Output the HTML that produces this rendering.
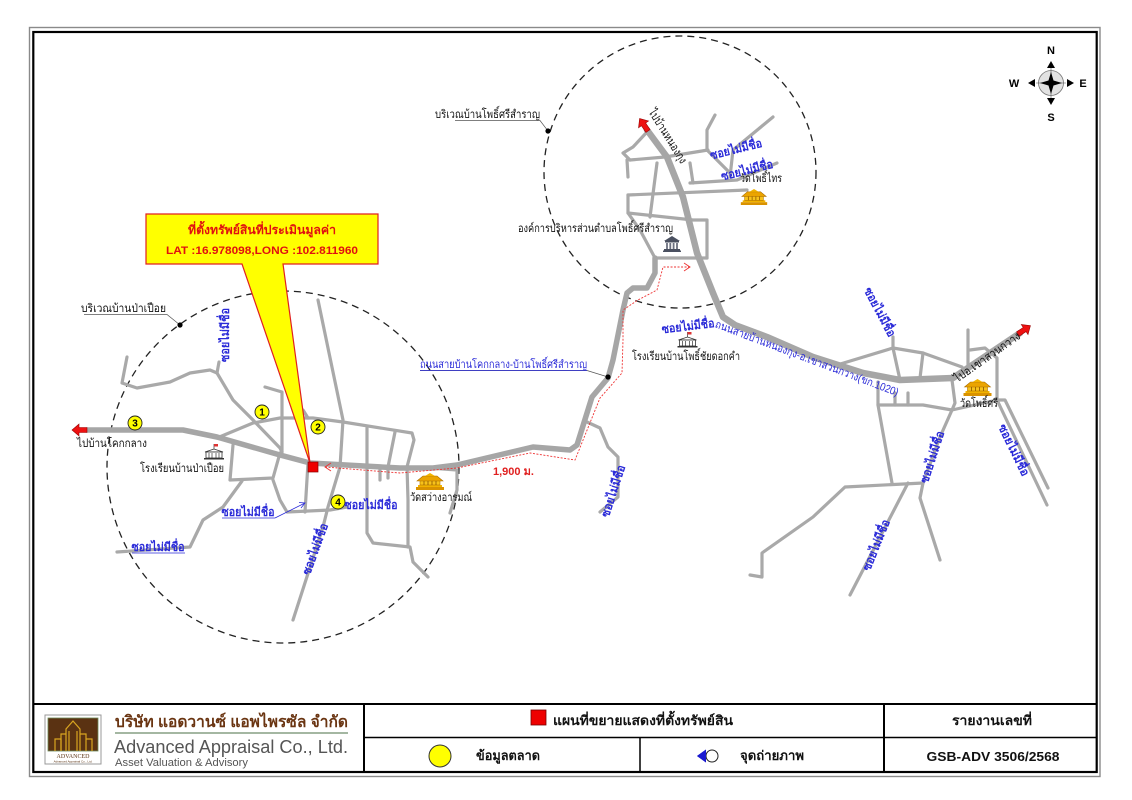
<!DOCTYPE html>
<html><head><meta charset="utf-8">
<style>
html,body{margin:0;padding:0;background:#fff;}
svg{display:block;font-family:"Liberation Sans","DejaVu Sans",sans-serif;}
.r{fill:none;stroke:#a9a9a9;stroke-width:3.2;stroke-linejoin:round;stroke-linecap:round}
.R{fill:none;stroke:#a6a6a6;stroke-width:5.5;stroke-linejoin:round;stroke-linecap:round}
.RT{fill:none;stroke:#a6a6a6;stroke-width:6.5;stroke-linejoin:round;stroke-linecap:round}
.b{fill:#2a2ad8;font-weight:bold;font-size:12px}
.k{fill:#111;font-size:11.5px}
.d{fill:none;stroke:#222;stroke-width:1.3;stroke-dasharray:7 5}
</style></head><body>
<svg width="1132" height="800" viewBox="0 0 1132 800">
<defs>
<symbol id="temple" viewBox="0 0 28 17">
 <rect x="0" y="14" width="28" height="3" fill="#d99200"/>
 <rect x="2" y="12" width="24" height="2" fill="#f2b300"/>
 <rect x="4" y="7" width="20" height="5" fill="#f7c21a" stroke="#b07000" stroke-width=".6"/>
 <polygon points="1,8 7,3 21,3 27,8" fill="#eba400" stroke="#a86a00" stroke-width=".6"/>
 <polygon points="9,3 14,0 19,3" fill="#f2b300"/>
 <path d="M8 8v4M12 8v4M16 8v4M20 8v4" stroke="#8a5500" stroke-width=".8"/>
</symbol>
<symbol id="school" viewBox="0 0 20 16">
 <line x1="10" y1="0" x2="10" y2="6" stroke="#333" stroke-width=".7"/>
 <rect x="10" y="0" width="4" height="2.5" fill="#d33"/>
 <polygon points="1,8 10,5 19,8" fill="#fff" stroke="#333" stroke-width=".8"/>
 <rect x="2" y="8" width="16" height="6" fill="#fff" stroke="#333" stroke-width=".8"/>
 <path d="M5 9v5M8 9v5M12 9v5M15 9v5" stroke="#333" stroke-width=".7"/>
 <rect x="0" y="14" width="20" height="1.5" fill="#333"/>
</symbol>
<symbol id="gov" viewBox="0 0 18 16">
 <polygon points="1,5 9,0 17,5" fill="#4a5060"/>
 <rect x="2" y="5" width="14" height="1.5" fill="#4a5060"/>
 <path d="M4 7v6M7.3 7v6M10.6 7v6M14 7v6" stroke="#6b7080" stroke-width="1.8"/>
 <rect x="1" y="13" width="16" height="1.5" fill="#4a5060"/>
 <rect x="0" y="14.5" width="18" height="1.5" fill="#4a5060"/>
</symbol>
<path id="arr" d="M0,-2.5 H8 V-6 L15,0 L8,6 V2.5 H0 Z" fill="#ee1111" stroke="#900" stroke-width=".6"/>
</defs>

<!-- frame -->
<rect x="29.5" y="27.5" width="1070.5" height="749" fill="none" stroke="#8a8a8a" stroke-width="1.4"/>
<rect x="33.3" y="32" width="1063.4" height="740" fill="none" stroke="#000" stroke-width="2.2"/>

<!-- dashed circles -->
<circle class="d" cx="283" cy="467" r="176"/>
<circle class="d" cx="680" cy="172" r="136"/>

<!-- left circle minor roads -->
<polyline class="r" points="127,357 122,383 137,388 170,382 190,373 210,370 217,373 219,362"/>
<polyline class="r" points="217,373 233,400 253,420 280,448 282,452"/>
<polyline class="r" points="217,438 253,423 280,418 313,418 343,422 412,433 414,440 407,467 408,500 408,547"/>
<polyline class="r" points="265,387 282,392 282,452"/>
<polyline class="r" points="318,300 343,420 340,467 328,507 323,527 293,620"/>
<polyline class="r" points="308,463 305,512"/>
<polyline class="r" points="233,445 230,480 273,478 280,453"/>
<polyline class="r" points="273,480 280,500 287,512 330,510 347,507"/>
<polyline class="r" points="242,481 223,507 203,520 190,547 117,552"/>
<polyline class="r" points="367,428 367,533 373,543 410,547 413,562 428,577"/>
<polyline class="r" points="395,432 388,467 388,478"/>
<polyline class="r" points="380,467 380,480"/>
<polyline class="r" points="430,468 457,470 457,490 450,513"/>
<polyline class="r" points="303,410 308,418"/>

<!-- top circle minor roads -->
<polyline class="r" points="647,132 633,147 623,153 630,160"/>
<polyline class="r" points="630,160 665,157 708,150"/>
<polyline class="r" points="627,160 628,177"/>
<polyline class="r" points="715,115 707,130 707,150 717,160 730,173"/>
<polyline class="r" points="773,117 733,150 730,177"/>
<polyline class="r" points="690,183 737,180 777,163"/>
<polyline class="r" points="628,195 747,190"/>
<polyline class="r" points="657,163 650,217"/>
<polyline class="r" points="628,195 628,213 640,230 655,258"/>
<polyline class="r" points="628,213 693,220 707,220 707,258"/>
<polyline class="r" points="655,258 707,258"/>
<polyline class="r" points="690,163 693,183"/>

<!-- right network -->
<polyline class="r" points="893,337 893,348 900,380"/>
<polyline class="r" points="837,365 893,348 923,353 962,367"/>
<polyline class="r" points="923,353 920,378"/>
<polyline class="r" points="968,330 968,365"/>
<polyline class="r" points="970,350 985,348 997,358 997,400"/>
<polyline class="r" points="878,382 878,405 923,405 952,410 997,400"/>
<polyline class="r" points="895,393 895,405"/>
<polyline class="r" points="908,393 908,405"/>
<polyline class="r" points="952,380 955,403 952,410"/>
<polyline class="r" points="878,405 892,483"/>
<polyline class="r" points="952,410 940,437 923,483 920,498 940,560"/>
<polyline class="r" points="750,575 762,577 762,553 813,517 845,487 923,483"/>
<polyline class="r" points="908,483 850,595"/>
<polyline class="r" points="997,400 1005,400 1048,488"/>
<polyline class="r" points="998,402 1047,505"/>
<polyline class="r" points="587,422 600,428 608,447 618,457 618,497 600,512"/>

<!-- main roads -->
<polyline class="R" points="87,430 183,430 217,437 280,455 310,463 400,468 433,468 457,465 533,447 570,450 577,445 592,397 608,378 613,360 623,310 627,293 633,288 647,288 655,273 655,258"/>
<polyline class="RT" points="647,130 667,157 683,197 697,253 713,293 723,317 735,325 767,337 813,357 863,373 900,380 953,378 1020,333"/>

<!-- red arrows -->
<use href="#arr" transform="translate(87,430) rotate(180)"/>
<use href="#arr" transform="translate(648,131) rotate(-124)"/>
<use href="#arr" transform="translate(1018,334) rotate(-34)"/>

<!-- red dotted route -->
<polyline points="325,467 400,473 457,468 530,453 575,460 600,398 622,373 623,340 623,310 638,300 657,290 663,267 690,267" fill="none" stroke="#e33" stroke-width="0.9" stroke-dasharray="2 1.5"/>
<polyline points="331,463 325,467 331,471" fill="none" stroke="#e33" stroke-width="0.9"/>
<polyline points="684,263 690,267 684,271" fill="none" stroke="#e33" stroke-width="0.9"/>
<text x="493" y="475" fill="#e02020" font-size="11" font-weight="bold">1,900 ม.</text>

<!-- callout -->
<path d="M146,214 H378 V264 H283 L310,463 L242,264 H146 Z" fill="#ffff00" stroke="#e02020" stroke-width="1.2"/>
<text x="262" y="234" fill="#e01010" font-size="12" font-weight="bold" text-anchor="middle" textLength="148" lengthAdjust="spacingAndGlyphs">ที่ตั้งทรัพย์สินที่ประเมินมูลค่า</text>
<text x="262" y="254" fill="#e01010" font-size="11" font-weight="bold" text-anchor="middle" textLength="192" lengthAdjust="spacingAndGlyphs">LAT :16.978098,LONG :102.811960</text>

<!-- subject square -->
<rect x="308" y="462" width="10" height="10" fill="#ee0000" stroke="#800" stroke-width=".7"/>

<!-- numbered circles -->
<g font-size="10" font-weight="bold" text-anchor="middle">
<circle cx="262" cy="412" r="7" fill="#ffff00" stroke="#222" stroke-width=".9"/><text x="262" y="415.5">1</text>
<circle cx="318" cy="427" r="7" fill="#ffff00" stroke="#222" stroke-width=".9"/><text x="318" y="430.5">2</text>
<circle cx="135" cy="423" r="7" fill="#ffff00" stroke="#222" stroke-width=".9"/><text x="135" y="426.5">3</text>
<circle cx="338" cy="502" r="7" fill="#ffff00" stroke="#222" stroke-width=".9"/><text x="338" y="505.5">4</text>
</g>

<!-- icons -->
<use href="#school" x="204" y="444" width="20" height="16"/>
<use href="#school" x="677" y="332" width="21" height="16"/>
<use href="#temple" x="416" y="473" width="28" height="17"/>
<use href="#temple" x="740" y="189" width="28" height="16"/>
<use href="#temple" x="963" y="379" width="29" height="17"/>
<use href="#gov" x="663" y="236" width="18" height="16"/>

<!-- area labels with leaders -->
<text class="k" x="81" y="312" textLength="85" lengthAdjust="spacingAndGlyphs">บริเวณบ้านป่าเปือย</text>
<polyline points="84,314.5 167,314.5 180,325" fill="none" stroke="#555" stroke-width=".7"/>
<circle cx="180" cy="325" r="2.6" fill="#000"/>
<text class="k" x="435" y="118" textLength="105" lengthAdjust="spacingAndGlyphs">บริเวณบ้านโพธิ์ศรีสำราญ</text>
<polyline points="455,120.5 540,120.5 548,131" fill="none" stroke="#555" stroke-width=".7"/>
<circle cx="548" cy="131" r="2.6" fill="#000"/>
<text x="420" y="368" fill="#2a2ad8" font-size="11" textLength="167" lengthAdjust="spacingAndGlyphs">ถนนสายบ้านโคกกลาง-บ้านโพธิ์ศรีสำราญ</text>
<polyline points="420,370.5 587,370.5 608,377" fill="none" stroke="#555" stroke-width=".7"/>
<line x1="420" y1="370.5" x2="587" y2="370.5" stroke="#2a2ad8" stroke-width=".8"/>
<circle cx="608" cy="377" r="2.6" fill="#000"/>

<!-- black labels -->
<text class="k" x="77" y="447" textLength="70" lengthAdjust="spacingAndGlyphs">ไปบ้านโคกกลาง</text>
<text class="k" x="140" y="472" textLength="84" lengthAdjust="spacingAndGlyphs">โรงเรียนบ้านป่าเปือย</text>
<text class="k" x="410" y="501" textLength="62" lengthAdjust="spacingAndGlyphs">วัดสว่างอารมณ์</text>
<text class="k" x="518" y="232" textLength="155" lengthAdjust="spacingAndGlyphs">องค์การบริหารส่วนตำบลโพธิ์ศรีสำราญ</text>
<text class="k" x="740" y="182" textLength="42" lengthAdjust="spacingAndGlyphs">วัดโพธิ์ไทร</text>
<text class="k" x="632" y="360" textLength="108" lengthAdjust="spacingAndGlyphs">โรงเรียนบ้านโพธิ์ชัยดอกคำ</text>
<text class="k" x="960" y="407" textLength="38" lengthAdjust="spacingAndGlyphs">วัดโพธิ์ศรี</text>
<text class="k" text-anchor="middle" dy="0.35em" transform="translate(668,136) rotate(58)" textLength="62" lengthAdjust="spacingAndGlyphs">ไปบ้านหนองกุง</text>
<text class="k" text-anchor="middle" dy="0.35em" transform="translate(987,357) rotate(-35)" textLength="78" lengthAdjust="spacingAndGlyphs">ไปอ.เขาสวนกวาง</text>
<text fill="#2a2ad8" font-size="11" text-anchor="middle" dy="0.35em" transform="translate(807,358) rotate(20.7)" textLength="195" lengthAdjust="spacingAndGlyphs">ถนนสายบ้านหนองกุง-อ.เขาสวนกวาง(ขก.1020)</text>

<!-- blue soi labels -->
<g class="b" text-anchor="middle">
<text dy="0.35em" transform="translate(225,335) rotate(-90)" textLength="54" lengthAdjust="spacingAndGlyphs">ซอยไม่มีชื่อ</text>
<text x="248" y="512" dy="0.35em" textLength="53" lengthAdjust="spacingAndGlyphs">ซอยไม่มีชื่อ</text>
<text x="158" y="547" dy="0.35em" textLength="53" lengthAdjust="spacingAndGlyphs">ซอยไม่มีชื่อ</text>
<text x="371" y="505" dy="0.35em" textLength="53" lengthAdjust="spacingAndGlyphs">ซอยไม่มีชื่อ</text>
<text dy="0.35em" transform="translate(315,549) rotate(-70)" textLength="54" lengthAdjust="spacingAndGlyphs">ซอยไม่มีชื่อ</text>
<text dy="0.35em" transform="translate(736,149) rotate(-14)" textLength="53" lengthAdjust="spacingAndGlyphs">ซอยไม่มีชื่อ</text>
<text dy="0.35em" transform="translate(747,170) rotate(-14)" textLength="53" lengthAdjust="spacingAndGlyphs">ซอยไม่มีชื่อ</text>
<text dy="0.35em" transform="translate(688,326) rotate(-7)" textLength="53" lengthAdjust="spacingAndGlyphs">ซอยไม่มีชื่อ</text>
<text dy="0.35em" transform="translate(880,312) rotate(62)" textLength="54" lengthAdjust="spacingAndGlyphs">ซอยไม่มีชื่อ</text>
<text dy="0.35em" transform="translate(932,457) rotate(-72)" textLength="54" lengthAdjust="spacingAndGlyphs">ซอยไม่มีชื่อ</text>
<text dy="0.35em" transform="translate(1014,450) rotate(64)" textLength="56" lengthAdjust="spacingAndGlyphs">ซอยไม่มีชื่อ</text>
<text dy="0.35em" transform="translate(876,545) rotate(-68)" textLength="54" lengthAdjust="spacingAndGlyphs">ซอยไม่มีชื่อ</text>
<text dy="0.35em" transform="translate(613,491) rotate(-72)" textLength="54" lengthAdjust="spacingAndGlyphs">ซอยไม่มีชื่อ</text>
</g>
<line x1="222" y1="518" x2="275" y2="518" stroke="#2a2ad8" stroke-width=".8"/>
<polyline points="275,518 305,503" fill="none" stroke="#2a2ad8" stroke-width=".8"/>
<polyline points="299,502.5 305,503 301,508" fill="none" stroke="#2a2ad8" stroke-width=".8"/>
<line x1="132" y1="553" x2="185" y2="553" stroke="#2a2ad8" stroke-width=".8"/>

<!-- compass -->
<g transform="translate(1051,83)">
 <circle r="12.5" fill="#e2e2e2" stroke="#777" stroke-width=".8"/>
 <line x1="-15" y1="0" x2="15" y2="0" stroke="#555" stroke-width=".6"/>
 <line x1="0" y1="-15" x2="0" y2="15" stroke="#555" stroke-width=".6"/>
 <polygon points="0,-11 2.5,-2.5 11,0 2.5,2.5 0,11 -2.5,2.5 -11,0 -2.5,-2.5" fill="#000"/>
 <polygon points="0,-22 -4,-15 4,-15" fill="#000"/>
 <polygon points="0,22 -4,15 4,15" fill="#000"/>
 <polygon points="-23,0 -16,-4 -16,4" fill="#000"/>
 <polygon points="23,0 16,-4 16,4" fill="#000"/>
 <g font-size="11" font-weight="bold" text-anchor="middle">
  <text x="0" y="-29">N</text>
  <text x="0" y="38">S</text>
  <text x="-37" y="4">W</text>
  <text x="32" y="4">E</text>
 </g>
</g>

<!-- legend lines -->
<line x1="33" y1="704" x2="1097" y2="704" stroke="#000" stroke-width="2"/>
<line x1="364" y1="737.5" x2="1097" y2="737.5" stroke="#000" stroke-width="1.5"/>
<line x1="364" y1="704" x2="364" y2="772" stroke="#000" stroke-width="2"/>
<line x1="884" y1="704" x2="884" y2="772" stroke="#000" stroke-width="2"/>
<line x1="640" y1="737.5" x2="640" y2="772" stroke="#000" stroke-width="1.5"/>

<!-- logo -->
<rect x="45" y="715" width="56" height="49" fill="#fff" stroke="#999" stroke-width="1"/>
<rect x="48" y="718" width="50" height="33" fill="#5a3212" stroke="#6d8a5a" stroke-width=".8"/>
<g fill="none" stroke="#d9a520" stroke-width="1.2">
 <path d="M66 751 V729 L73 721 L80 729 V751"/>
 <path d="M69 751 V731 M77 751 V731"/>
 <path d="M55 751 V739 H61 V751"/>
 <path d="M61 751 V734 H66"/>
 <path d="M80 734 H86 V751"/>
 <path d="M86 739 H92 V751"/>
</g>
<text x="73" y="758" fill="#5a3212" font-size="6" text-anchor="middle" font-family="Liberation Serif,serif">ADVANCED</text>
<text x="73" y="762.5" fill="#5a3212" font-size="3" text-anchor="middle">Advanced Appraisal Co., Ltd.</text>

<!-- company text -->
<text x="115" y="727" fill="#6a3512" font-size="16" font-weight="bold" textLength="233" lengthAdjust="spacingAndGlyphs">บริษัท แอดวานซ์ แอพไพรซัล จำกัด</text>
<line x1="115" y1="733" x2="348" y2="733" stroke="#6e8c6a" stroke-width="1.2"/>
<text x="114" y="753" fill="#555" font-size="18" textLength="234" lengthAdjust="spacingAndGlyphs">Advanced Appraisal Co., Ltd.</text>
<text x="115" y="766" fill="#555" font-size="11" textLength="133" lengthAdjust="spacingAndGlyphs">Asset Valuation &amp; Advisory</text>

<!-- legend content -->
<rect x="531" y="710" width="15" height="15" fill="#ee0000" stroke="#700" stroke-width=".8"/>
<text x="553" y="725" font-size="13" font-weight="bold" fill="#111" textLength="180" lengthAdjust="spacingAndGlyphs">แผนที่ขยายแสดงที่ตั้งทรัพย์สิน</text>
<circle cx="440" cy="756" r="11" fill="#ffff00" stroke="#333" stroke-width="1"/>
<text x="476" y="760" font-size="13" font-weight="bold" fill="#111" textLength="64" lengthAdjust="spacingAndGlyphs">ข้อมูลตลาด</text>
<polygon points="697,756 706,749.5 706,762.5" fill="#1a1ad0"/>
<circle cx="712" cy="756" r="6" fill="#fff" stroke="#222" stroke-width="1"/>
<polygon points="697,756 706,749.5 706,762.5" fill="#1a1ad0"/>
<text x="740" y="760" font-size="13" font-weight="bold" fill="#111" textLength="64" lengthAdjust="spacingAndGlyphs">จุดถ่ายภาพ</text>
<text x="992" y="725" font-size="13" font-weight="bold" fill="#111" text-anchor="middle" textLength="80" lengthAdjust="spacingAndGlyphs">รายงานเลขที่</text>
<text x="993" y="761" font-size="13" font-weight="bold" fill="#111" text-anchor="middle" textLength="133" lengthAdjust="spacingAndGlyphs">GSB-ADV 3506/2568</text>
</svg>
</body></html>
